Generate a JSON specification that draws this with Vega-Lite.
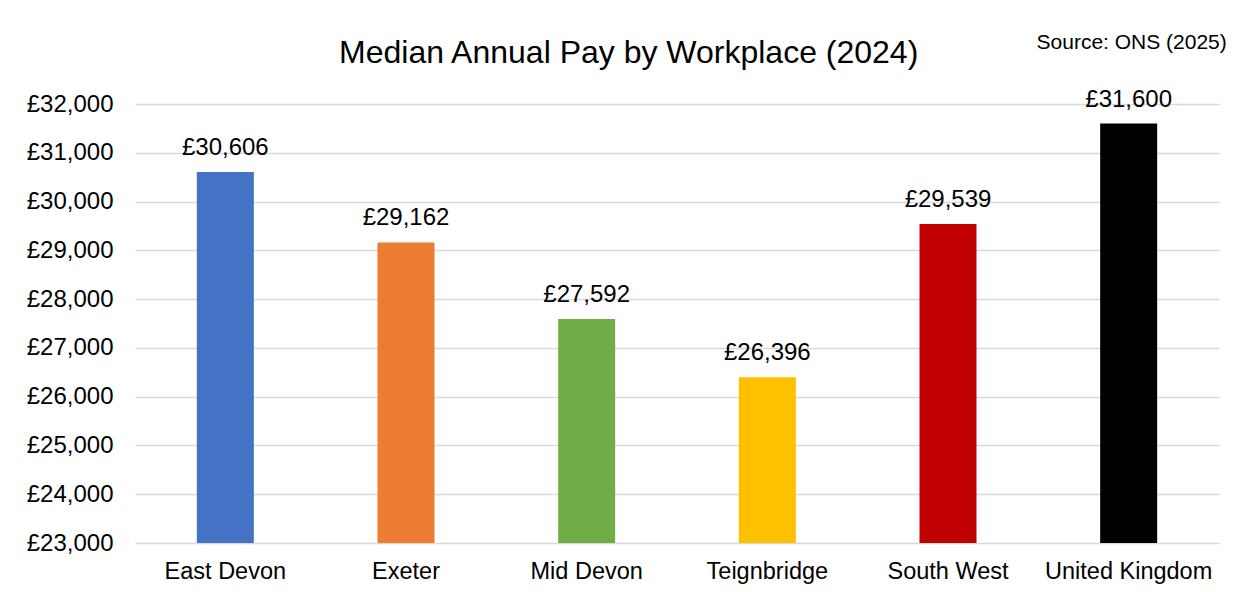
{
  "$schema": "https://vega.github.io/schema/vega-lite/v6.json",
  "width": 1084,
  "height": 439,
  "autosize": {"type": "none"},
  "padding": {"left": 135, "top": 104, "right": 15, "bottom": 49},
  "background": "white",
  "config": {
    "locale": {"number": {"decimal": ".", "thousands": ",", "grouping": [3], "currency": ["£", ""]}},
    "view": {"stroke": null},
    "font": "Liberation Sans"
  },
  "data": {
    "values": [
      {"area": "East Devon", "pay": 30606},
      {"area": "Exeter", "pay": 29162},
      {"area": "Mid Devon", "pay": 27592},
      {"area": "Teignbridge", "pay": 26396},
      {"area": "South West", "pay": 29539},
      {"area": "United Kingdom", "pay": 31600}
    ]
  },
  "layer": [
    {
      "mark": {"type": "bar"},
      "encoding": {
        "x": {
          "field": "area",
          "type": "nominal",
          "sort": null,
          "scale": {"paddingInner": 0.6845, "paddingOuter": 0.34225},
          "axis": {
            "title": null,
            "labelAngle": 0,
            "labelFontSize": 23.5,
            "labelColor": "#000000",
            "labelPadding": 16,
            "ticks": false,
            "domain": false,
            "grid": false
          }
        },
        "y": {
          "field": "pay",
          "type": "quantitative",
          "scale": {"domain": [23000, 32000], "zero": false, "nice": false},
          "axis": {
            "title": null,
            "values": [23000, 24000, 25000, 26000, 27000, 28000, 29000, 30000, 31000, 32000],
            "format": "$,.0f",
            "labelFontSize": 24,
            "labelColor": "#000000",
            "labelPadding": 22,
            "ticks": false,
            "domain": false,
            "grid": true,
            "gridColor": "#D9D9D9",
            "gridWidth": 1.5
          }
        },
        "y2": {"datum": 23000},
        "color": {
          "field": "area",
          "type": "nominal",
          "sort": null,
          "scale": {
            "domain": ["East Devon", "Exeter", "Mid Devon", "Teignbridge", "South West", "United Kingdom"],
            "range": ["#4472C4", "#ED7D31", "#70AD47", "#FFC000", "#C00000", "#000000"]
          },
          "legend": null
        }
      }
    },
    {
      "mark": {"type": "text", "fontSize": 24, "baseline": "alphabetic", "dy": -17, "color": "#000000"},
      "encoding": {
        "x": {"field": "area", "type": "nominal", "sort": null},
        "y": {"field": "pay", "type": "quantitative"},
        "text": {"field": "pay", "type": "quantitative", "format": "$,.0f"}
      }
    },
    {
      "data": {"values": [{"note": "Median Annual Pay by Workplace (2024)"}]},
      "mark": {"type": "text", "fontSize": 32, "baseline": "alphabetic", "align": "center", "dx": 42, "color": "#000000", "clip": false},
      "encoding": {
        "x": {"datum": "Mid Devon", "type": "nominal"},
        "y": {"datum": 32840, "type": "quantitative"},
        "text": {"field": "note", "type": "nominal"}
      }
    },
    {
      "data": {"values": [{"note": "Source: ONS (2025)"}]},
      "mark": {"type": "text", "fontSize": 21, "baseline": "alphabetic", "align": "center", "dx": 3, "color": "#000000", "clip": false},
      "encoding": {
        "x": {"datum": "United Kingdom", "type": "nominal"},
        "y": {"datum": 33127, "type": "quantitative"},
        "text": {"field": "note", "type": "nominal"}
      }
    }
  ]
}
